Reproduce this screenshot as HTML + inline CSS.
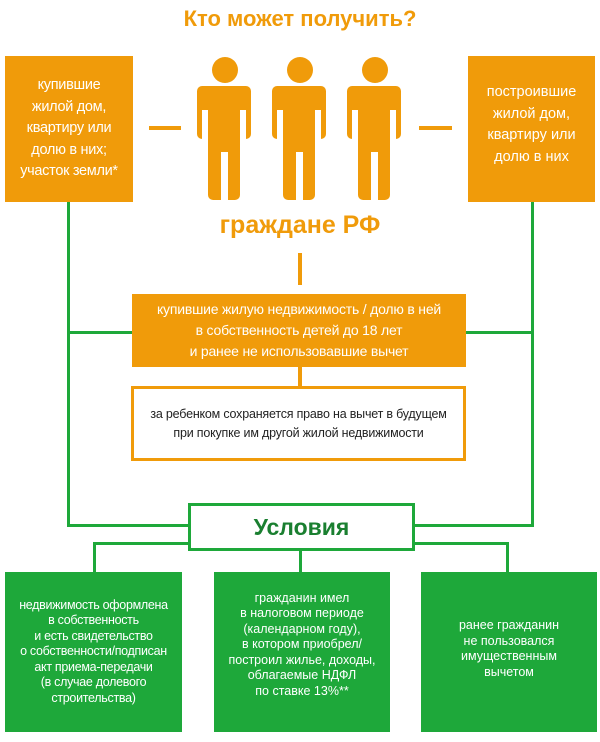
<!DOCTYPE html>
<html><head><meta charset="utf-8"><style>
body{margin:0;width:600px;height:742px;background:#fff;position:relative;overflow:hidden;font-family:"Liberation Sans","DejaVu Sans",sans-serif}
div{position:absolute;box-sizing:border-box}
.o{background:#f09b0a}
.g{background:#1ea83a}
.t{display:flex;align-items:center;justify-content:center;text-align:center;color:#fff;white-space:nowrap}
</style></head><body>
<div style="left:0;top:6px;width:600px;text-align:center;color:#f09b0a;font-size:22px;font-weight:bold">Кто может получить?</div>

<div class="o t" style="left:5px;top:56px;width:128px;height:146px;font-size:14.5px;line-height:21.5px;letter-spacing:-0.3px">купившие<br>жилой дом,<br>квартиру или<br>долю в них;<br>участок земли*</div>
<div class="o t" style="left:468px;top:56px;width:127px;height:146px;font-size:14.5px;line-height:21.5px;padding-bottom:8px">построившие<br>жилой дом,<br>квартиру или<br>долю в них</div>

<div class="o" style="left:149px;top:126px;width:32px;height:4px"></div>
<div class="o" style="left:419px;top:126px;width:33px;height:4px"></div>

<svg style="position:absolute;left:0;top:0" width="600" height="210">
<g fill="#f09b0a">
<circle cx="225" cy="70" r="13"/><rect x="197" y="86" width="54" height="53" rx="5"/><rect x="208" y="86" width="32" height="114" rx="5"/>
<circle cx="300" cy="70" r="13"/><rect x="272" y="86" width="54" height="53" rx="5"/><rect x="283" y="86" width="32" height="114" rx="5"/>
<circle cx="375" cy="70" r="13"/><rect x="347" y="86" width="54" height="53" rx="5"/><rect x="358" y="86" width="32" height="114" rx="5"/>
</g>
<g fill="#fff">
<rect x="221" y="152" width="7" height="50"/><rect x="296" y="152" width="7" height="50"/><rect x="371" y="152" width="7" height="50"/>
<rect x="202" y="110" width="6" height="30"/><rect x="240" y="110" width="6" height="30"/><rect x="277" y="110" width="6" height="30"/><rect x="315" y="110" width="6" height="30"/><rect x="352" y="110" width="6" height="30"/><rect x="390" y="110" width="6" height="30"/></g>
</svg>

<div style="left:0;top:211px;width:600px;text-align:center;color:#f09b0a;font-size:25px;font-weight:bold">граждане РФ</div>
<div class="o" style="left:298px;top:253px;width:4px;height:32px"></div>

<div class="g" style="left:67px;top:202px;width:3px;height:325px"></div>
<div class="g" style="left:531px;top:202px;width:3px;height:325px"></div>
<div class="g" style="left:67px;top:331px;width:66px;height:3px"></div>
<div class="g" style="left:466px;top:331px;width:68px;height:3px"></div>
<div class="g" style="left:67px;top:524px;width:122px;height:3px"></div>
<div class="g" style="left:414px;top:524px;width:120px;height:3px"></div>

<div class="o t" style="left:132px;top:294px;width:334px;height:73px;font-size:14px;line-height:21px;letter-spacing:-0.2px">купившие жилую недвижимость / долю в ней<br>в собственность детей до 18 лет<br>и ранее не использовавшие вычет</div>
<div class="o" style="left:298px;top:367px;width:4px;height:19px"></div>
<div class="t" style="left:131px;top:386px;width:335px;height:75px;border:3px solid #f09b0a;color:#222;font-size:12.5px;line-height:19px;letter-spacing:-0.2px">за ребенком сохраняется право на вычет в будущем<br>при покупке им другой жилой недвижимости</div>

<div class="t" style="left:188px;top:503px;width:227px;height:48px;border:3px solid #1ea83a;color:#1a7f30;font-size:23px;font-weight:bold">Условия</div>

<div class="g" style="left:93px;top:542px;width:95px;height:3px"></div>
<div class="g" style="left:93px;top:542px;width:3px;height:30px"></div>
<div class="g" style="left:415px;top:542px;width:94px;height:3px"></div>
<div class="g" style="left:506px;top:542px;width:3px;height:30px"></div>
<div class="g" style="left:299px;top:551px;width:3px;height:21px"></div>

<div class="g t" style="left:5px;top:572px;width:177px;height:160px;font-size:12.5px;line-height:15.5px;letter-spacing:-0.3px">недвижимость оформлена<br>в собственность<br>и есть свидетельство<br>о собственности/подписан<br>акт приема-передачи<br>(в случае долевого<br>строительства)</div>
<div class="g t" style="left:214px;top:572px;width:176px;height:160px;font-size:12.5px;line-height:15.5px;padding-bottom:14px">гражданин имел<br>в налоговом периоде<br>(календарном году),<br>в котором приобрел/<br>построил жилье, доходы,<br>облагаемые НДФЛ<br>по ставке 13%**</div>
<div class="g t" style="left:421px;top:572px;width:176px;height:160px;font-size:12.5px;line-height:15.5px;padding-bottom:6px">ранее гражданин<br>не пользовался<br>имущественным<br>вычетом</div>
</body></html>
